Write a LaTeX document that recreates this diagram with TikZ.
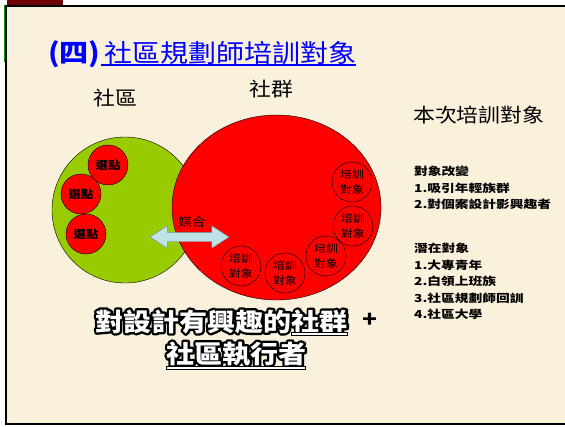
\documentclass[tikz,border=0pt]{standalone}
\usepackage{fontspec}
\usepackage{xcolor}
\usepackage{tikz}
\usetikzlibrary{shapes.geometric, shapes.arrows}
\newfontfamily\cjk{Noto Sans CJK TC}[FakeStretch=1.12]
\newfontfamily\cjkwide{Noto Sans CJK TC}[FakeStretch=1.25]
\definecolor{paper}{RGB}{250,241,220}
\definecolor{leafgreen}{RGB}{153,204,0}
\definecolor{titleblue}{RGB}{0,0,255}
\definecolor{arrowblue}{RGB}{190,226,232}
\definecolor{arrowline}{RGB}{110,140,150}
\definecolor{darkred}{RGB}{110,0,0}
\tikzstyle{bigword} = [inner sep=0pt, anchor=base west, text=white, font=\cjk\bfseries\fontsize{25}{25}\selectfont]
\newcommand{\outlineword}[1]{\rlap{\special{pdf:literal q 1 Tr 4.6 w 1 j 1 J 0 0 0 RG}#1}\special{pdf:literal Q}#1}

\begin{document}
\begin{tikzpicture}[x=1pt, y=-1pt,
				spot/.style= {draw, circle, fill=red, minimum size=40pt, inner sep=0pt, font=\cjk\bfseries\fontsize{11}{11}\selectfont},
				target/.style= {draw, circle, fill=red, minimum size=40pt, inner sep=0pt, align=center, font=\cjk\fontsize{10.5}{15}\selectfont},
				listline/.style= {anchor=base west, inner sep=0pt, font=\cjkwide\bfseries\fontsize{11}{11}\selectfont},
				label/.style= {anchor=base west, inner sep=0pt, font=\cjk\fontsize{19.5}{20}\selectfont}
			]
			\useasboundingbox (0,0) rectangle (565,426);
			\fill [white] (0,0) rectangle (565,426);
			\fill [paper] (6,6) rectangle (566,424);
			\draw [line width=2pt] (6,6) rectangle (566,424);
			\fill [darkred] (7,0) rectangle (63,4.5);
			\draw [green!60!black, line width=1pt] (4.5,5) -- (4.5,62);
			
			\node (titlenum) [anchor=base west, inner sep=0pt, text=titleblue, font=\cjk\bfseries\fontsize{26}{26}\selectfont] at (48,62) {(四)};
			\node (titletext) [anchor=base west, inner sep=0pt, text=titleblue, font=\cjk\fontsize{25}{25}\selectfont] at (104,62) {社區規劃師培訓對象};
			\draw [titleblue, line width=1.6pt] (titlenum.east |- 0,65) -- (titletext.east |- 0,65);
			
			\node (regionlabel) [label] at (93,105) {社區};
			\node (grouplabel) [label] at (249,96) {社群};
			\node (targetlabel) [label] at (413,122) {本次培訓對象};
			
			\node (region) [draw, circle, fill=leafgreen, minimum size=146pt, inner sep=0pt] at (125,210) {};
			\node (group) [draw, ellipse, fill=red, minimum width=209pt, minimum height=185pt, inner sep=0pt] at (276.5,207.5) {};
			
			\foreach \p [count=\i] in {(108,165), (81,194), (86,234)}{
				\node (spot\i) [spot] at \p {選點};
			}
			\foreach \p [count=\i] in {(352,182), (353,226), (326,256), (285,273), (241,266)}{
				\node (target\i) [target] at \p {培訓\\對象};
			}
			
			\node (match) [double arrow, draw=arrowline, fill=arrowblue, minimum height=79pt, minimum width=22pt, inner sep=4.5pt, double arrow head extend=6.5pt, double arrow tip angle=66] at (189.5,237) {};
			\node (matchlabel) [anchor=base, inner sep=0pt, font=\cjk\fontsize{12}{12}\selectfont] at (192,226) {媒合};
			
			\foreach \t [count=\i] in {對象改變, 1.吸引年輕族群, 2.對個案設計影興趣者}{
				\node (change\i) [listline] at (414,{175.5+16.5*(\i-1)}) {\t};
			}
			\foreach \t [count=\i] in {潛在對象, 1.大專青年, 2.白領上班族, 3.社區規劃師回訓, 4.社區大學}{
				\node (latent\i) [listline] at (414,{252.5+16.5*(\i-1)}) {\t};
			}
			
			\node (slogana) [bigword] at (95,331) {\outlineword{對設計有興趣的}};
			\node (sloganb) [bigword] at (slogana.base east) {\outlineword{社群}};
			\node (sloganc) [bigword] at (166,363) {\outlineword{社區執行者}};
			\node (plus) [anchor=center, inner sep=0pt, font=\cjk\bfseries\fontsize{22}{22}\selectfont] at (370,320) {+};
			\foreach \n/\y in {sloganb/334, sloganc/368}{
				\draw [line width=4pt] (\n.west |- 0,\y) -- (\n.east |- 0,\y);
				\draw [white, line width=1.4pt] ([xshift=1pt]\n.west |- 0,\y) -- ([xshift=-1pt]\n.east |- 0,\y);
			}
		\end{tikzpicture}
\end{document}
